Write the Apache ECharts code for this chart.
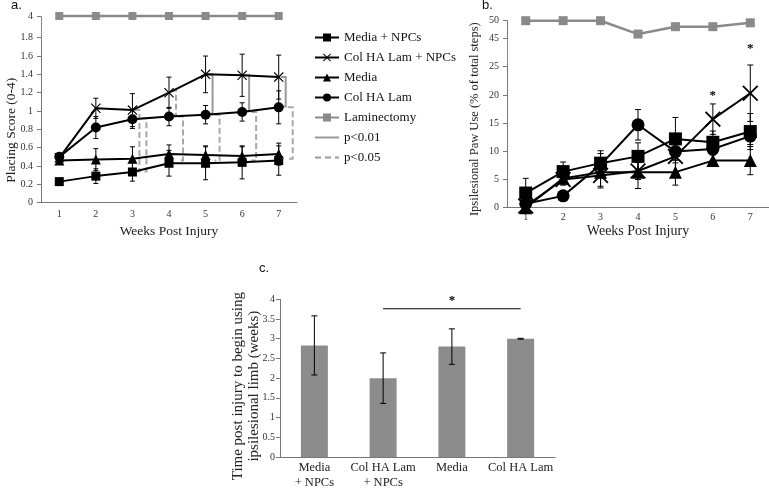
<!DOCTYPE html>
<html>
<head>
<meta charset="utf-8">
<script src="https://cdn.jsdelivr.net/npm/echarts@6/dist/echarts.min.js"></script>
<style>
  html, body { margin: 0; padding: 0; background: #fff; }
  #chart { width: 769px; height: 490px; }
</style>
</head>
<body>
<div id="chart"></div>
<script>
// x categories for a. and b.
var weeks = ['1', '2', '3', '4', '5', '6', '7'];

// a. placing score (0-4)
var aMediaNPC = [0.23, 0.29, 0.335, 0.43, 0.43, 0.44, 0.46];
var aColNPC   = [0.49, 1.03, 1.01, 1.20, 1.40, 1.39, 1.37];
var aMedia    = [0.46, 0.47, 0.48, 0.53, 0.52, 0.51, 0.53];
var aColHA    = [0.50, 0.82, 0.91, 0.94, 0.96, 0.99, 1.04];
var aLam      = [4, 4, 4, 4, 4, 4, 4];
var aMediaNPCErr = [0.01, 0.08, 0.10, 0.14, 0.18, 0.18, 0.16];
var aColNPCErr   = [0.02, 0.11, 0.18, 0.17, 0.20, 0.23, 0.24];
var aMediaErr    = [0.01, 0.12, 0.13, 0.10, 0.10, 0.10, 0.12];
var aColHAErr    = [0.02, 0.12, 0.10, 0.10, 0.10, 0.10, 0.18];
// significance brackets: [week index, low, high, level (1 = p<0.01, 2 = p<0.05)]
var aBrackets = [
  [4, 0.97, 1.40, 1], [5, 1.00, 1.39, 1], [6, 1.05, 1.37, 1],
  [2, 0.34, 1.01, 2], [2, 0.34, 0.92, 2], [3, 0.96, 1.22, 2], [3, 0.46, 0.94, 2],
  [4, 0.46, 0.96, 2], [5, 0.46, 0.99, 2], [6, 0.48, 1.04, 2]
];

// b. ipsilesional paw use (% of total steps)
var bMediaNPC = [2.6, 6.4, 7.9, 9.1, 12.2, 11.6, 13.5];
var bColNPC   = [0.3, 5.0, 5.7, 6.5, 9.1, 15.7, 20.3];
var bMedia    = [0, 5.2, 6.3, 6.3, 6.3, 8.35, 8.35];
var bColHA    = [0.7, 2.1, 7.6, 14.7, 9.95, 10.4, 12.7];
var bLam      = [50, 50, 50, 46.2, 48.3, 48.3, 49.4];
var bMediaNPCErr = [2.6, 1.7, 2.2, 2.4, 3.8, 2.0, 3.2];
var bColNPCErr   = [0.5, 1.0, 2.2, 1.5, 3.0, 2.7, 5.0];
var bMediaErr    = [0.5, 1.0, 2.5, 2.9, 2.3, 1.0, 2.5];
var bColHAErr    = [1.0, 0.5, 2.0, 2.7, 2.0, 2.0, 1.5];
var bStars = [[5, 19.8], [6, 28.2]];

// c. time to begin using ipsilesional limb (weeks)
var cGroups = ['Media\n+ NPCs', 'Col HA Lam\n+ NPCs', 'Media', 'Col HA Lam'];
var cMeans  = [2.83, 2.0, 2.8, 3.0];
var cErr    = [0.75, 0.64, 0.45, 0.01];
var cSig    = [1, 3, 3.76];

var serif = 'Liberation Serif';
var grey = '#8a8a8a';
var axisGrey = '#777';
var xMark = 'path://M0,0.8L0.8,0L5,4.2L9.2,0L10,0.8L5.8,5L10,9.2L9.2,10L5,5.8L0.8,10L0,9.2L4.2,5Z';

function line(name, xi, data, symbol, size, color, width) {
  return {
    name: name, type: 'line', xAxisIndex: xi, yAxisIndex: xi, data: data,
    symbol: symbol, symbolSize: size, showAllSymbol: true, clip: false, z: 3,
    lineStyle: { color: color, width: width || 2 },
    itemStyle: { color: color }
  };
}

function errBars(xi, vals, errs, cap) {
  return {
    type: 'custom', xAxisIndex: xi, yAxisIndex: xi, silent: true, z: 2,
    data: vals.map(function (v, i) { return [i, v - errs[i], v + errs[i]]; }),
    encode: { x: 0, y: [1, 2] },
    renderItem: function (params, api) {
      var lo = api.coord([api.value(0), api.value(1)]);
      var hi = api.coord([api.value(0), api.value(2)]);
      var x = lo[0];
      var st = { stroke: '#000', lineWidth: 1 };
      return { type: 'group', children: [
        { type: 'line', shape: { x1: x, y1: lo[1], x2: x, y2: hi[1] }, style: st },
        { type: 'line', shape: { x1: x - cap, y1: hi[1], x2: x + cap, y2: hi[1] }, style: st },
        { type: 'line', shape: { x1: x - cap, y1: lo[1], x2: x + cap, y2: lo[1] }, style: st }
      ] };
    }
  };
}

// slot of each bracket within its week (first one nearest the points)
var bracketSlot = (function () {
  var seen = {};
  return aBrackets.map(function (b) { seen[b[0]] = seen[b[0]] || 0; return seen[b[0]]++; });
})();

var tick = { fontFamily: serif, fontSize: 10, color: '#333' };
function valAxis(gi, min, max, interval, extra) {
  var ax = {
    type: 'value', gridIndex: gi, min: min, max: max, interval: interval,
    splitLine: { show: false },
    nameMoveOverlap: false,
    axisLine: { show: true, lineStyle: { color: axisGrey } },
    axisTick: { show: true, length: 4, lineStyle: { color: axisGrey } },
    axisLabel: Object.assign({ margin: 8 }, tick)
  };
  return Object.assign(ax, extra || {});
}
function catAxis(gi, data, show, extra) {
  var ax = {
    type: 'category', gridIndex: gi, data: data, show: show,
    axisLine: { lineStyle: { color: axisGrey } },
    axisTick: { length: 4, lineStyle: { color: axisGrey } },
    axisLabel: Object.assign({ margin: 7, interval: 0 }, tick)
  };
  return Object.assign(ax, extra || {});
}
var nameStyle = function (size, pad) {
  return { fontFamily: serif, fontSize: size, color: '#222', padding: pad || 0 };
};
// legend-only entries for the bracket line styles
function legendLine(name, type) {
  return { name: name, type: 'line', data: [], xAxisIndex: 1, yAxisIndex: 1, symbol: 'circle', symbolSize: 0,
    lineStyle: { color: '#999', width: 3, type: type }, itemStyle: { color: 'rgba(0,0,0,0)' } };
}

var option = {
  animation: false,
  textStyle: { fontFamily: serif },
  title: [
    { text: 'a.', left: 11, top: -1, padding: 0, textStyle: { fontFamily: 'Liberation Sans', fontSize: 13, fontWeight: 'normal', color: '#111' } },
    { text: 'b.', left: 482, top: -1, padding: 0, textStyle: { fontFamily: 'Liberation Sans', fontSize: 13, fontWeight: 'normal', color: '#111' } },
    { text: 'c.', left: 259, top: 262, padding: 0, textStyle: { fontFamily: 'Liberation Sans', fontSize: 13, fontWeight: 'normal', color: '#111' } }
  ],
  legend: {
    orient: 'vertical', left: 309, top: 26, itemWidth: 24, itemHeight: 10, itemGap: 7,
    textStyle: { fontFamily: serif, fontSize: 13, color: '#111' },
    data: ['Media + NPCs', 'Col HA Lam + NPCs', 'Media', 'Col HA Lam', 'Laminectomy', 'p<0.01', 'p<0.05']
  },
  grid: [
    { left: 41, top: 16, width: 256, height: 21.7 },
    { left: 41, top: 37.7, width: 256, height: 165 },
    { left: 507, top: 20.7, width: 262, height: 17.6 },
    { left: 507, top: 38.3, width: 262, height: 28.4 },
    { left: 507, top: 66.7, width: 262, height: 141 },
    { left: 280, top: 299.3, width: 275, height: 162 }
  ],
  xAxis: [
    catAxis(0, weeks, false),
    catAxis(1, weeks, true, { name: 'Weeks Post Injury', nameLocation: 'middle', nameGap: 22, nameTextStyle: nameStyle(13.5) }),
    catAxis(2, weeks, false),
    catAxis(3, weeks, false),
    catAxis(4, weeks, true, { name: 'Weeks Post Injury', nameLocation: 'middle', nameGap: 17, nameTextStyle: nameStyle(14),
      axisLabel: Object.assign({ margin: 5, interval: 0 }, tick) }),
    catAxis(5, cGroups, true, { axisLabel: { margin: 3, interval: 0, fontFamily: serif, fontSize: 12.5, lineHeight: 15, color: '#222' } })
  ],
  yAxis: [
    valAxis(0, 3, 4, 1, { axisLine: { show: true, lineStyle: { color: axisGrey, type: 'dotted' } },
      axisLabel: Object.assign({ margin: 8, showMinLabel: false }, tick) }),
    valAxis(1, 0, 1.8, 0.2, { name: 'Placing Score (0-4)', nameLocation: 'middle', nameGap: 23,
      nameTextStyle: nameStyle(13.5, [0, 20, 0, 0]) }),
    valAxis(2, 45, 50, 5),
    valAxis(3, 0, 1, 1, { axisTick: { show: false }, axisLabel: { show: false },
      axisLine: { show: true, lineStyle: { color: axisGrey, type: 'dotted' } } }),
    valAxis(4, 0, 25, 5, { name: 'Ipsilesional Paw Use (% of total steps)', nameLocation: 'middle', nameGap: 26,
      nameTextStyle: nameStyle(12.5, [0, 0, 0, 36]) }),
    valAxis(5, 0, 4, 0.5, { name: 'Time post injury to begin using\nipsilesional limb (weeks)', nameLocation: 'middle',
      nameGap: 18, nameTextStyle: { fontFamily: serif, fontSize: 15, lineHeight: 16, color: '#222', padding: [0, 16, 0, 0] },
      axisLabel: Object.assign({ margin: 5 }, tick) })
  ],
  series: [
    // a.
    errBars(1, aMediaNPC, aMediaNPCErr, 2.5),
    errBars(1, aColNPC, aColNPCErr, 2.5),
    errBars(1, aMedia, aMediaErr, 2.5),
    errBars(1, aColHA, aColHAErr, 2.5),
    {
      type: 'custom', xAxisIndex: 1, yAxisIndex: 1, silent: true, z: 2, data: aBrackets,
      encode: { x: 0, y: [1, 2] },
      renderItem: function (params, api) {
        var top = api.coord([api.value(0), api.value(2)]);
        var bot = api.coord([api.value(0), api.value(1)]);
        var x = top[0] + 7 + 7 * bracketSlot[params.dataIndex];
        var dashed = api.value(3) === 2;
        return {
          type: 'polyline',
          shape: { points: [[x - 5, top[1]], [x, top[1]], [x, bot[1]], [x - 5, bot[1]]] },
          style: { stroke: dashed ? '#a8a8a8' : '#999', lineWidth: 2, fill: null, lineDash: dashed ? [6, 3] : null }
        };
      }
    },
    line('Media + NPCs', 1, aMediaNPC, 'rect', 9, '#000'),
    line('Col HA Lam + NPCs', 1, aColNPC, xMark, 10, '#000'),
    line('Media', 1, aMedia, 'triangle', 10, '#000'),
    line('Col HA Lam', 1, aColHA, 'circle', 10, '#000'),
    line('Laminectomy', 0, aLam, 'rect', 8, grey, 2.5),
    legendLine('p<0.01', 'solid'),
    legendLine('p<0.05', [6, 4]),
    // b.
    errBars(4, bMediaNPC, bMediaNPCErr, 3),
    errBars(4, bColNPC, bColNPCErr, 3),
    errBars(4, bMedia, bMediaErr, 3),
    errBars(4, bColHA, bColHAErr, 3),
    line('Media + NPCs', 4, bMediaNPC, 'rect', 13, '#000'),
    line('Col HA Lam + NPCs', 4, bColNPC, xMark, 16, '#000'),
    line('Media', 4, bMedia, 'triangle', 13, '#000'),
    line('Col HA Lam', 4, bColHA, 'circle', 13, '#000'),
    line('Laminectomy', 2, bLam, 'rect', 9, grey, 2.5),
    {
      type: 'custom', xAxisIndex: 4, yAxisIndex: 4, silent: true, z: 4, data: bStars,
      renderItem: function (params, api) {
        var p = api.coord([api.value(0), api.value(1)]);
        return { type: 'text', x: p[0], y: p[1],
          style: { text: '*', fill: '#000', font: 'bold 13px Liberation Serif', align: 'center', verticalAlign: 'middle' } };
      }
    },
    // c.
    { type: 'bar', xAxisIndex: 5, yAxisIndex: 5, data: cMeans, barWidth: 27, itemStyle: { color: '#8c8c8c' } },
    Object.assign(errBars(5, cMeans, cErr, 3), { z: 3 }),
    {
      type: 'custom', xAxisIndex: 5, yAxisIndex: 5, silent: true, z: 4, data: [cSig],
      renderItem: function (params, api) {
        var a = api.coord([api.value(0), api.value(2)]);
        var b = api.coord([api.value(1), api.value(2)]);
        return { type: 'group', children: [
          { type: 'line', shape: { x1: a[0], y1: a[1], x2: b[0], y2: b[1] }, style: { stroke: '#000', lineWidth: 1 } },
          { type: 'text', x: (a[0] + b[0]) / 2, y: a[1] - 8,
            style: { text: '*', fill: '#000', font: 'bold 13px Liberation Serif', align: 'center', verticalAlign: 'middle' } }
        ] };
      }
    }
  ]
};

echarts.init(document.getElementById('chart')).setOption(option);
</script>
</body>
</html>
